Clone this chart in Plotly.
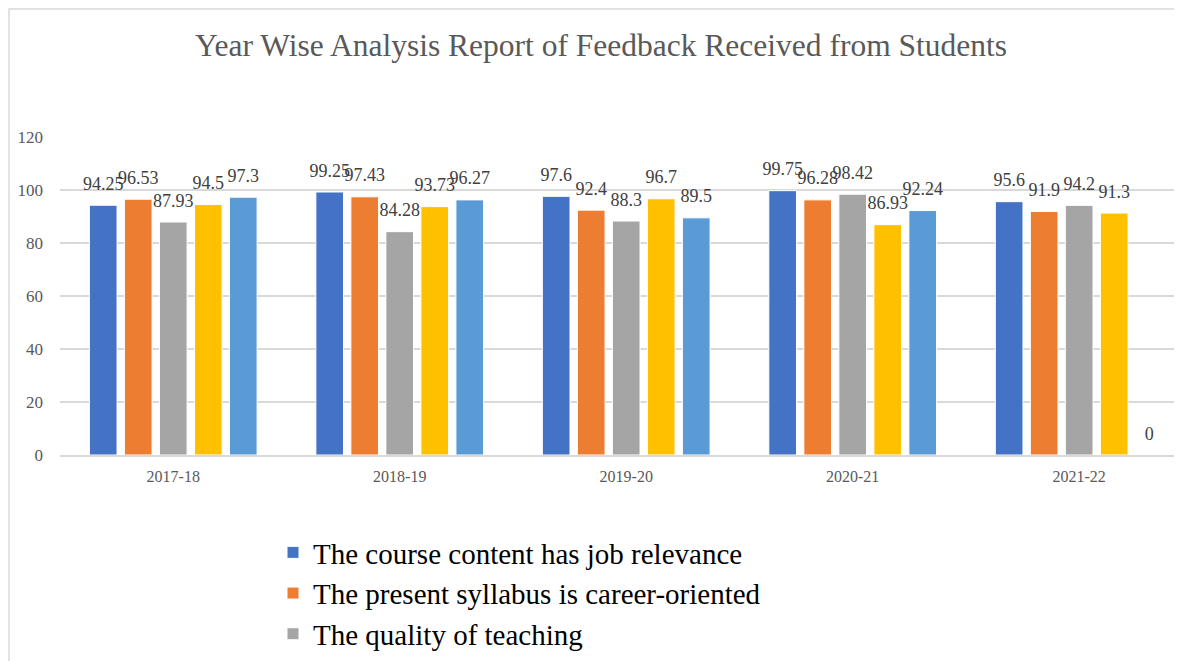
import plotly.graph_objects as go

years = ["2017-18", "2018-19", "2019-20", "2020-21", "2021-22"]
series_names = [
    "The course content has job relevance",
    "The present syllabus is career-oriented",
    "The quality of teaching",
    "Series 4",
    "Series 5",
]
s1 = [94.25, 99.25, 97.6, 99.75, 95.6]
s2 = [96.53, 97.43, 92.4, 96.28, 91.9]
s3 = [87.93, 84.28, 88.3, 98.42, 94.2]
s4 = [94.5, 93.73, 96.7, 86.93, 91.3]
s5 = [97.3, 96.27, 89.5, 92.24, 0]
colors = ["#4472C4", "#ED7D31", "#A5A5A5", "#FFC000", "#5B9BD5"]
legend_shown = [True, True, True, False, False]

FONT = "Liberation Serif"
W, H = 1174, 653          # page body has an 8px margin
L, T, B = 52, 129, 206
PW, PH = W - L, H - T - B

fig = go.Figure()
for name, vals, col, show in zip(series_names, [s1, s2, s3, s4, s5], colors, legend_shown):
    fig.add_trace(go.Bar(
        x=years, y=vals, name=name,
        marker=dict(color=col, line=dict(color="white", width=1)),
        text=[f"<span style='font-size:18px'>{v:g}</span><br> " for v in vals],
        textposition="outside",
        constraintext="none",
        cliponaxis=False,
        textfont=dict(family=FONT, size=8, color="#404040"),
        showlegend=show,
    ))

fig.update_layout(
    width=W, height=H,
    paper_bgcolor="white", plot_bgcolor="white",
    margin=dict(l=L, r=0, t=T, b=B),
    barmode="group", bargap=0.227, bargroupgap=0.21,
    title=dict(text="Year Wise Analysis Report of Feedback Received from Students",
               x=593/W, xanchor="center", y=1-37/H, yanchor="middle",
               font=dict(family=FONT, size=31.5, color="#595959")),
    xaxis=dict(type="category", range=[-0.5, 4.454], showgrid=False,
               showline=True, linecolor="#D9D9D9", linewidth=1.5,
               tickfont=dict(family=FONT, size=16, color="#595959"),
               ticks="", ticklabelstandoff=6),
    yaxis=dict(range=[0, 120], dtick=20, showgrid=True, gridcolor="#D9D9D9",
               gridwidth=1.5, zeroline=False, showline=False,
               tickfont=dict(family=FONT, size=17, color="#595959"),
               ticks="", ticklabelstandoff=16),
    legend=dict(x=(265-L)/PW, xanchor="left", y=-(519-(T+PH))/PH, yanchor="top",
                font=dict(family=FONT, size=29, color="#000000"),
                tracegroupgap=0, itemwidth=30, bgcolor="rgba(0,0,0,0)"),
    shapes=[dict(type="rect", xref="paper", yref="paper",
                 x0=(1-L)/PW, x1=1.2, y0=-1.0, y1=(T+PH-1)/PH,
                 line=dict(color="#D9D9D9", width=1.5), layer="below")],
)

fig.write_html("out.html")
